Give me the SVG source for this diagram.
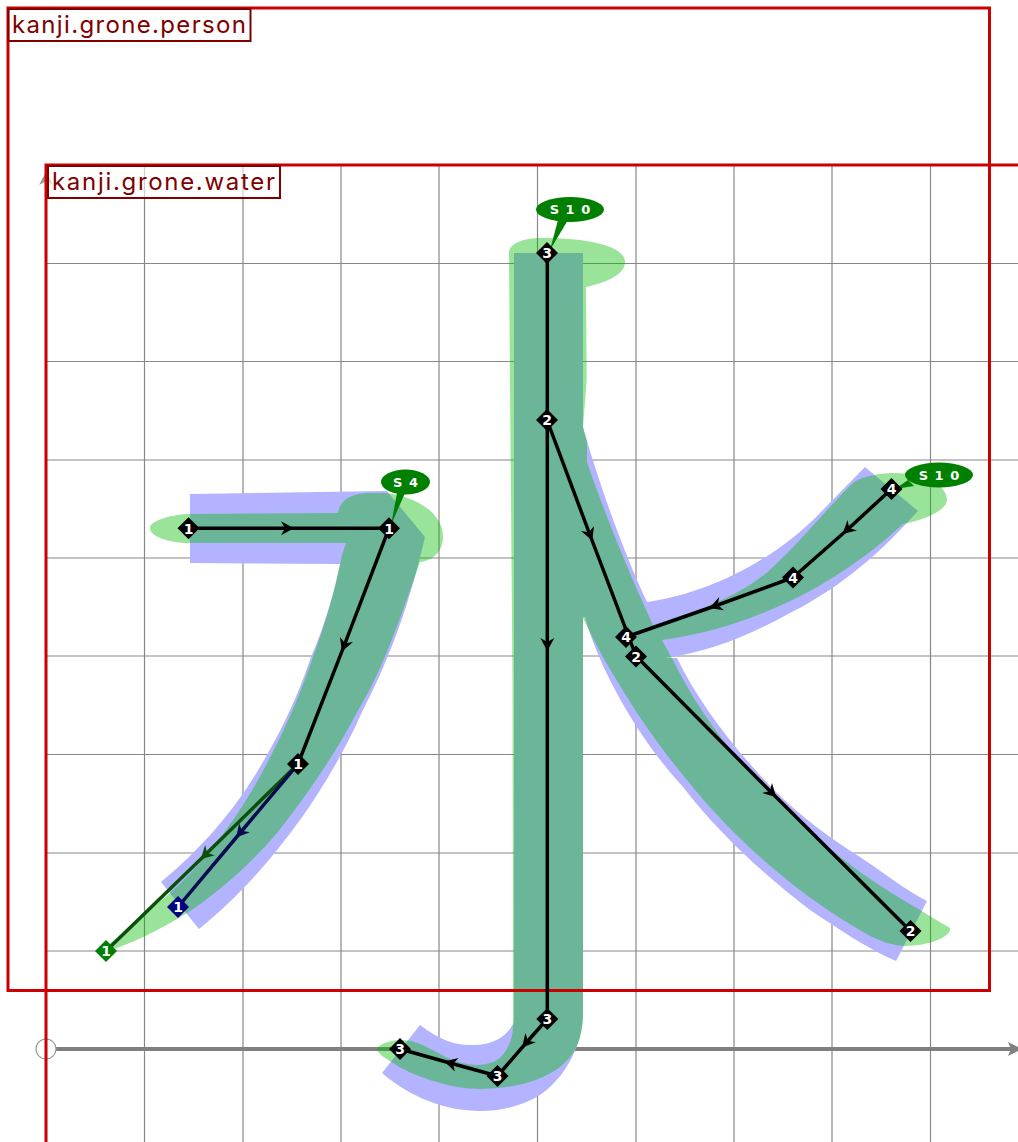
<svg xmlns="http://www.w3.org/2000/svg" width="1018" height="1142" viewBox="0 0 1018 1142">
<style>
.grid{stroke:#888;stroke-width:1.2;fill:none}
.blue{fill:#b3b3ff}
.green{fill:#00bc00;fill-opacity:.4}
.frame{fill:none;stroke:#c00;stroke-width:3}
.labelbox{fill:#fff;fill-opacity:.6;stroke:#800000;stroke-width:2}
.label{font-family:"Inter","Liberation Sans",sans-serif;font-size:24px;font-weight:400;fill:#800000}
.c{fill:none;stroke-width:3.500;stroke-linecap:butt;stroke-linejoin:round}
.n{font-family:"DejaVu Sans","Liberation Sans",sans-serif;font-size:14px;font-weight:bold;fill:#fff;text-anchor:middle}
.s{font-family:"DejaVu Sans","Liberation Sans",sans-serif;font-size:13px;font-weight:bold;fill:#fff;text-anchor:middle;letter-spacing:1px}
</style>
<defs>
<marker id="ak" markerUnits="userSpaceOnUse" markerWidth="20" markerHeight="20" refX="10" refY="10" orient="auto" overflow="visible"><path d="M16,10 L3,3 L7,10 L3,17 Z" fill="#000"/></marker>
<marker id="ag" markerUnits="userSpaceOnUse" markerWidth="20" markerHeight="20" refX="10" refY="10" orient="auto" overflow="visible"><path d="M16,10 L3,3 L7,10 L3,17 Z" fill="#0a4f0a"/></marker>
<marker id="ab" markerUnits="userSpaceOnUse" markerWidth="20" markerHeight="20" refX="10" refY="10" orient="auto" overflow="visible"><path d="M16,10 L3,3 L7,10 L3,17 Z" fill="#0a0a50"/></marker>
<marker id="ax" markerUnits="userSpaceOnUse" markerWidth="20" markerHeight="20" refX="4" refY="7" orient="auto" overflow="visible"><path d="M0,0 L14,7 L0,14 L3,7 Z" fill="#808080"/></marker>
</defs>
<g id="grid">
<path class="grid" d="M144.500,165V1142M243,165V1142M341,165V1142M439,165V1142M537.500,165V1142M636,165V1142M734,165V1142M832,165V1142M930.500,165V1142"/>
<path class="grid" d="M46,263.500H1018M46,361.500H1018M46,460H1018M46,558H1018M46,656H1018M46,754.500H1018M46,853H1018M46,951H1018"/>
<path d="M46,1039V178" stroke="#808080" stroke-width="1.500" fill="none"/>
<path d="M39,185 L46.500,171 L53,185 L46.500,181 Z" fill="#999"/>
<path d="M56,1049H1012" stroke="#808080" stroke-width="4" fill="none" marker-end="url(#ax)"/>
<circle cx="46" cy="1049" r="10" fill="#fff" fill-opacity=".8" stroke="#999" stroke-width="1.200"/>
</g>
<g id="strokes-blue">
<path class="blue" d="M190,494 L387,491 L425,537 C417,570 402,635 363,710 C345,750 325,785 300,820 C270,862 235,900 199,929 L161,882 C200,850 235,810 260,767 C285,725 300,690 311,657 C325,625 335,590 340,564 L190,563 Z"/>
<path class="blue" d="M514,253 H583 V427 C595,470 620,545 647,602 C700,595 770,565 820,513 L865,467 L918,511 L903,527 C870,562 835,590 790,613 C750,635 710,652 664,658 L677,658 C700,705 735,750 777,793 C805,820 830,838 860,857 C880,870 905,890 927,901 L896,961 C870,950 840,930 810,910 C770,880 720,835 683,787 C635,735 598,665 585,617 L583,617 V1013 C583,1045 565,1078 540,1095 C520,1107 500,1111 480,1111 C445,1111 410,1097 382,1073 L420,1025 C440,1040 455,1045 470,1045 C495,1046 508,1035 514,1022 Z"/>
</g>
<g id="strokes-green">
<path class="green" d="M150,528 C150,520 175,514 190,514 L338,513 C340,498 355,493 370,493 L385,493 C410,495 443,510 443,537 C443,552 432,561 420,562 C403,610 385,665 360,707 C340,745 315,785 277,833 C250,865 215,895 187,913 C160,930 125,947 106,951 L108,945 L170,893 C205,862 240,815 265,767 C285,730 300,695 313,657 C325,625 335,590 342,555 L346,543 L190,543 C170,543 150,537 150,528 Z"/>
<path class="green" d="M509,252 C510,243 525,238 540,238 C585,238 625,245 625,262 C625,275 605,283 586,287 L586.700,380 L583,427 L587,442 L587,462 C600,500 625,565 653,625 C700,610 745,595 775,565 C800,542 830,505 853,483 C860,477 880,473 893,473 C925,473 947,485 947,500 C947,510 925,520 903,524 C870,555 820,590 770,610 C735,625 700,635 662,640 L673,660 C695,705 730,755 770,793 C800,825 830,850 860,872 C885,890 920,910 950,928 C952,936 930,946 905,946 C880,945 860,930 840,918 C780,880 725,828 687,780 C645,730 605,665 583,618 L583,1013 C583,1040 575,1055 560,1067 C540,1082 510,1089 480,1089 C450,1089 410,1075 393,1063 C385,1058 377,1053 377,1049 C380,1043 392,1040 402,1040 C420,1040 435,1053 453,1060 C465,1065 480,1067 493,1062 C505,1058 513,1040 513,1027 L512.500,680 L510,380 Z"/>
</g>
<g id="frames">
<path class="frame" d="M8,8H989.500V990.500H8Z"/>
<path class="frame" d="M1018,165H46V1142"/>
<g id="label-person"><rect class="labelbox" x="8.500" y="9" width="242" height="32"/><text class="label" x="12" y="32.500" textLength="234" lengthAdjust="spacing">kanji.grone.person</text></g>
<g id="label-water"><rect class="labelbox" x="48" y="166" width="232" height="32"/><text class="label" x="52" y="189.500" textLength="223" lengthAdjust="spacing">kanji.grone.water</text></g>
</g>
<g id="connectors">
<polyline class="c" stroke="#0a4f0a" marker-mid="url(#ag)" points="298,764 205,855 106,951"/>
<polyline class="c" stroke="#0a0a50" marker-mid="url(#ab)" points="298,764 240,833 178,907"/>
<polyline class="c" stroke="#000" marker-mid="url(#ak)" points="188.500,528.300 288,528.300 389,528.300"/>
<polyline class="c" stroke="#000" marker-mid="url(#ak)" points="389,528.300 344,646 298,764"/>
<polyline class="c" stroke="#000" points="547.300,253 547.300,420"/>
<polyline class="c" stroke="#000" marker-mid="url(#ak)" points="547.300,420 547.300,645 547.300,1019"/>
<polyline class="c" stroke="#000" marker-mid="url(#ak)" points="547,420 590,535 636,656"/>
<polyline class="c" stroke="#000" marker-mid="url(#ak)" points="636,656 772,793 910.500,931"/>
<polyline class="c" stroke="#000" marker-mid="url(#ak)" points="547.300,1019 526,1043 497.500,1076"/>
<polyline class="c" stroke="#000" marker-mid="url(#ak)" points="497.500,1076 450,1063 400,1049"/>
<polyline class="c" stroke="#000" marker-mid="url(#ak)" points="891.500,489 847,530 793,577.500"/>
<polyline class="c" stroke="#000" marker-mid="url(#ak)" points="793,577.500 715,606 626,637"/>
</g>
<g id="balloon-s4"><path d="M397,493 L405,493 L391,525 Z" fill="#008000"/><ellipse cx="405.500" cy="482" rx="24.500" ry="12.500" fill="#008000"/><text class="s" x="406" y="487">S 4</text></g>
<g id="balloon-s10-top"><path d="M558,220 L568,220 L550,250 Z" fill="#008000"/><ellipse cx="570" cy="209.500" rx="34" ry="12.500" fill="#008000"/><text class="s" x="570.500" y="214">S 1 0</text></g>
<g id="balloon-s10-right"><path d="M908,480 L914,486 L895,489 Z" fill="#008000"/><ellipse cx="939" cy="475" rx="34" ry="12.500" fill="#008000"/><text class="s" x="939.500" y="480">S 1 0</text></g>
<g id="node-1a"><path d="M188.500,517.300 L199.500,528.300 L188.500,539.300 L177.500,528.300 Z" fill="#000"/><text class="n" x="188.500" y="533.500">1</text></g>
<g id="node-1b"><path d="M389,517.300 L400,528.300 L389,539.300 L378,528.300 Z" fill="#000"/><text class="n" x="389" y="533.500">1</text></g>
<g id="node-1c"><path d="M298,753 L309,764 L298,775 L287,764 Z" fill="#000"/><text class="n" x="298" y="769">1</text></g>
<g id="node-1d"><path d="M178,896 L189,907 L178,918 L167,907 Z" fill="#000080"/><text class="n" x="178" y="912">1</text></g>
<g id="node-1e"><path d="M106,940 L117,951 L106,962 L95,951 Z" fill="#008000"/><text class="n" x="106" y="956">1</text></g>
<g id="node-3a"><path d="M547,242 L558,253 L547,264 L536,253 Z" fill="#000"/><text class="n" x="547" y="258">3</text></g>
<g id="node-2a"><path d="M547,409 L558,420 L547,431 L536,420 Z" fill="#000"/><text class="n" x="547" y="425">2</text></g>
<g id="node-2b"><path d="M636,645.500 L647,656.500 L636,667.500 L625,656.500 Z" fill="#000"/><text class="n" x="636" y="661.500">2</text></g>
<g id="node-4c"><path d="M626,626 L637,637 L626,648 L615,637 Z" fill="#000"/><text class="n" x="626" y="642">4</text></g>
<g id="node-2c"><path d="M910.500,920 L921.500,931 L910.500,942 L899.500,931 Z" fill="#000"/><text class="n" x="910.500" y="936">2</text></g>
<g id="node-3b"><path d="M547.300,1008 L558.300,1019 L547.300,1030 L536.300,1019 Z" fill="#000"/><text class="n" x="547.300" y="1024">3</text></g>
<g id="node-3c"><path d="M497.500,1065 L508.500,1076 L497.500,1087 L486.500,1076 Z" fill="#000"/><text class="n" x="497.500" y="1081">3</text></g>
<g id="node-3d"><path d="M400,1038 L411,1049 L400,1060 L389,1049 Z" fill="#000"/><text class="n" x="400" y="1054">3</text></g>
<g id="node-4a"><path d="M891.500,478 L902.500,489 L891.500,500 L880.500,489 Z" fill="#000"/><text class="n" x="891.500" y="494">4</text></g>
<g id="node-4b"><path d="M793,566.500 L804,577.500 L793,588.500 L782,577.500 Z" fill="#000"/><text class="n" x="793" y="582.500">4</text></g>
</svg>
